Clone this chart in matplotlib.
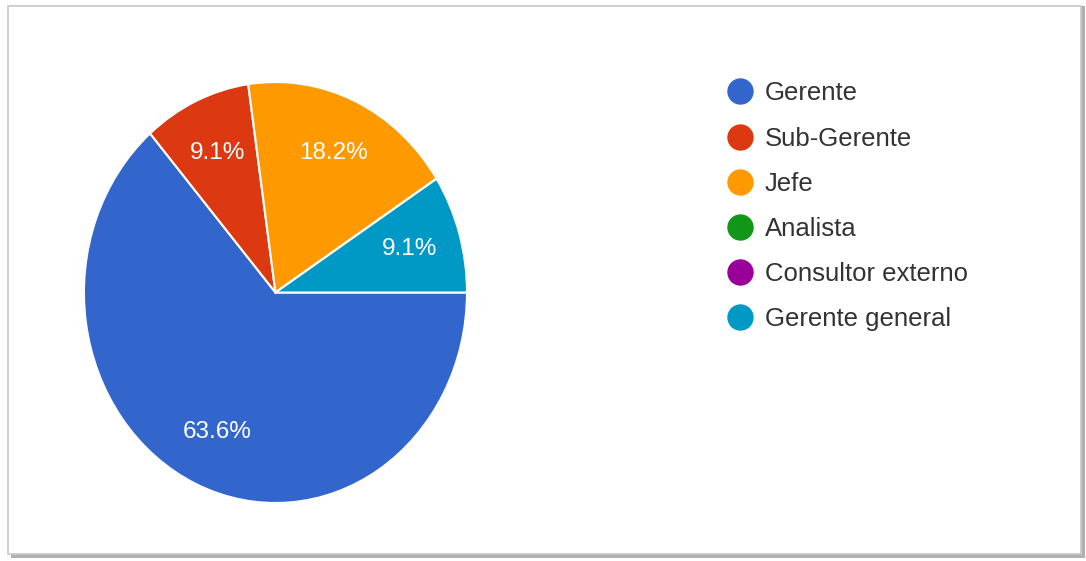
import matplotlib.pyplot as plt
from matplotlib.lines import Line2D
from matplotlib.patches import Rectangle

plt.rcParams['font.family'] = ['Liberation Sans', 'DejaVu Sans']

# respuestas por cargo
labels = ["Gerente", "Sub-Gerente", "Jefe", "Analista", "Consultor externo", "Gerente general"]
counts = [7, 1, 2, 0, 0, 1]
colors = ["#3366CC", "#DC3912", "#FF9900", "#109618", "#990099", "#0099C6"]

fig = plt.figure(figsize=(10.86, 5.61), dpi=100)

# marco con sombra como en la captura
fig.patches.append(Rectangle((0.010, 0.006), 0.989, 0.983, transform=fig.transFigure,
                             facecolor="#b0b0b0", edgecolor="none", zorder=-2))
fig.patches.append(Rectangle((0.007, 0.013), 0.988, 0.977, transform=fig.transFigure,
                             facecolor="white", edgecolor="#c8c8c8", lw=1.2, zorder=-1))

ax = fig.add_axes([0.0773, 0.1034, 0.3527, 0.7504])


def pct(p):
    return f"{p:.1f}%" if p > 0 else ""


wedges, texts, autotexts = ax.pie(counts, colors=colors, startangle=0, counterclock=False,
                                  autopct=pct, pctdistance=0.73,
                                  wedgeprops=dict(edgecolor="white", linewidth=1.5),
                                  textprops=dict(color="white", fontsize=17.5))
ax.set_aspect("auto")
ax.set_xlim(-1, 1)
ax.set_ylim(-1, 1)

handles = [Line2D([], [], marker="o", linestyle="none", markersize=18,
                  markerfacecolor=c, markeredgecolor=c) for c in colors]
fig.legend(handles, labels, loc="upper left", bbox_to_anchor=(0.6486, 0.896),
           frameon=False, fontsize=18.5, labelspacing=0.82, handletextpad=0.45,
           handlelength=1.0, labelcolor="#333333")

fig.savefig("out.png", dpi=100)
